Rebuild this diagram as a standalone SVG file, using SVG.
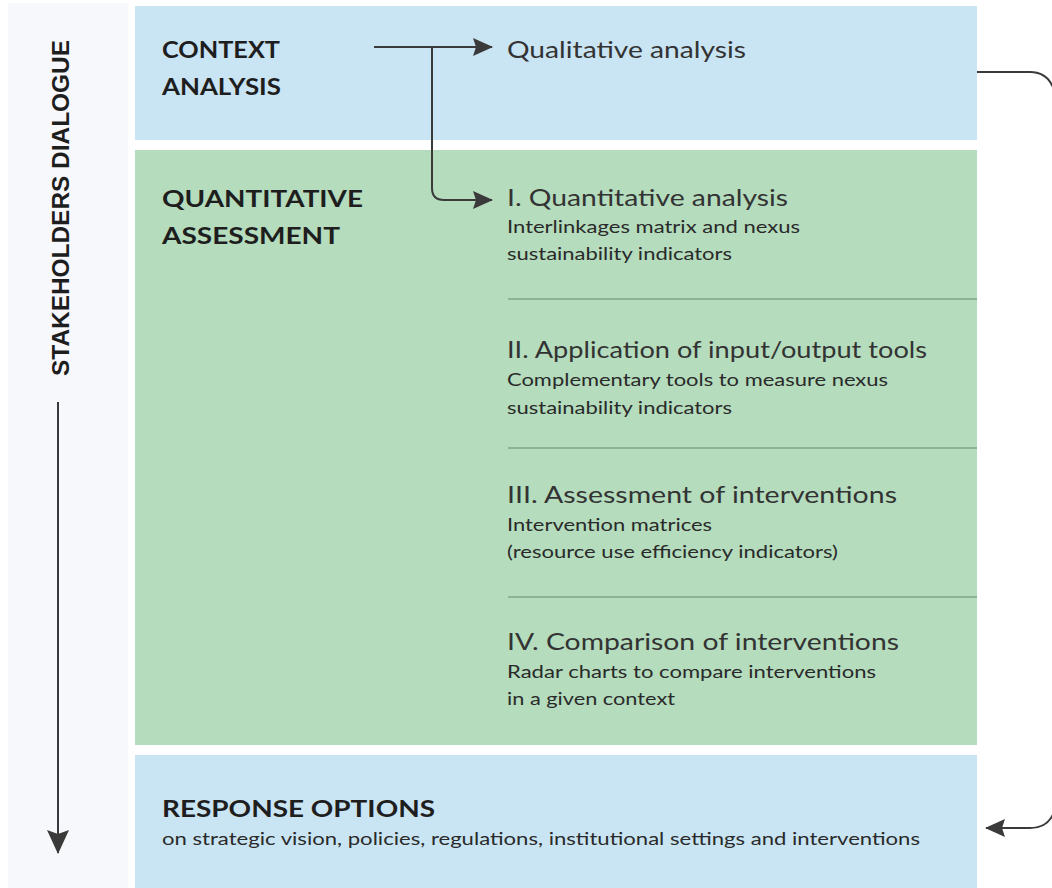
<svg xmlns="http://www.w3.org/2000/svg" width="1052" height="888" viewBox="0 0 1052 888">
<style>
.blue{fill:#c9e4f2}
.green{fill:#b4dcbd}
.h{font-family:Lato,"Liberation Sans",sans-serif;font-weight:bold;font-size:22px;fill:#1e1e1e}
.t{font-family:Lato,"Liberation Sans",sans-serif;font-size:24px;fill:#333}
.s{font-family:Lato,"Liberation Sans",sans-serif;font-size:17px;fill:#2a2a2a}
.sep{stroke:#8db295;stroke-width:2}
.c{fill:none;stroke:#3a3a3a;stroke-width:2}
</style>
<defs>
<marker id="ah" markerWidth="20" markerHeight="20" refX="19" refY="10" orient="auto" markerUnits="userSpaceOnUse" viewBox="0 0 20 20">
<path d="M0,1 L20,10 L0,19 L3,10 Z" fill="#3a3a3a"/>
</marker>
<marker id="ahL" markerWidth="24" markerHeight="24" refX="23" refY="12" orient="auto" markerUnits="userSpaceOnUse" viewBox="0 0 24 24">
<path d="M0,1 L24,12 L0,23 L4,12 Z" fill="#3a3a3a"/>
</marker>
</defs>
<rect width="1052" height="888" fill="#ffffff"/>
<g id="stakeholders">
<rect x="8" y="3" width="120" height="885" fill="#f7f8fc"/>
<text transform="translate(69,376) rotate(-90)" font-family="'Liberation Sans',Arial,sans-serif" font-weight="bold" font-size="23" fill="#1e1e1e" textLength="336" lengthAdjust="spacingAndGlyphs">STAKEHOLDERS DIALOGUE</text>
</g>
<g id="context">
<rect class="blue" x="135" y="6" width="842" height="134"/>
<text class="h" x="162" y="58" textLength="118" lengthAdjust="spacingAndGlyphs">CONTEXT</text>
<text class="h" x="162" y="95" textLength="119" lengthAdjust="spacingAndGlyphs">ANALYSIS</text>
<text class="t" x="507" y="58" textLength="239" lengthAdjust="spacingAndGlyphs">Qualitative analysis</text>
</g>
<g id="quantitative">
<rect class="green" x="135" y="150" width="842" height="595"/>
<text class="h" x="162" y="207" textLength="201" lengthAdjust="spacingAndGlyphs">QUANTITATIVE</text>
<text class="h" x="162" y="244" textLength="178" lengthAdjust="spacingAndGlyphs">ASSESSMENT</text>
<line class="sep" x1="508" y1="299" x2="977" y2="299"/>
<line class="sep" x1="508" y1="448" x2="977" y2="448"/>
<line class="sep" x1="508" y1="597" x2="977" y2="597"/>
</g>
<g id="step1">
<text class="t" x="507" y="206" textLength="281" lengthAdjust="spacingAndGlyphs">I. Quantitative analysis</text>
<text class="s" x="507" y="233" textLength="293" lengthAdjust="spacingAndGlyphs">Interlinkages matrix and nexus</text>
<text class="s" x="507" y="260" textLength="225" lengthAdjust="spacingAndGlyphs">sustainability indicators</text>
</g>
<g id="step2">
<text class="t" x="507" y="358" textLength="420" lengthAdjust="spacingAndGlyphs">II. Application of input/output tools</text>
<text class="s" x="507" y="386" textLength="381" lengthAdjust="spacingAndGlyphs">Complementary tools to measure nexus</text>
<text class="s" x="507" y="414" textLength="225" lengthAdjust="spacingAndGlyphs">sustainability indicators</text>
</g>
<g id="step3">
<text class="t" x="507" y="503" textLength="390" lengthAdjust="spacingAndGlyphs">III. Assessment of interventions</text>
<text class="s" x="507" y="531" textLength="205" lengthAdjust="spacingAndGlyphs">Intervention matrices</text>
<text class="s" x="507" y="558" textLength="331" lengthAdjust="spacingAndGlyphs">(resource use efficiency indicators)</text>
</g>
<g id="step4">
<text class="t" x="507" y="650" textLength="392" lengthAdjust="spacingAndGlyphs">IV. Comparison of interventions</text>
<text class="s" x="507" y="678" textLength="369" lengthAdjust="spacingAndGlyphs">Radar charts to compare interventions</text>
<text class="s" x="507" y="705" textLength="168" lengthAdjust="spacingAndGlyphs">in a given context</text>
</g>
<g id="response">
<rect class="blue" x="135" y="755" width="842" height="133"/>
<text class="h" x="162" y="817" textLength="273" lengthAdjust="spacingAndGlyphs">RESPONSE OPTIONS</text>
<text class="s" x="162" y="845" textLength="758" lengthAdjust="spacingAndGlyphs">on strategic vision, policies, regulations, institutional settings and interventions</text>
</g>
<g id="connectors">
<line class="c" x1="374" y1="47" x2="492" y2="47" marker-end="url(#ah)"/>
<path class="c" d="M432,47 V188 Q432,200 444,200 H492" marker-end="url(#ah)"/>
<path class="c" d="M977,72 H1030 Q1048,72 1054,90"/>
<path class="c" d="M1054,812 Q1048,828 1030,828 H986" marker-end="url(#ah)"/>
<line class="c" x1="58" y1="402" x2="58" y2="853" stroke-width="2.5" marker-end="url(#ahL)"/>
</g>
</svg>
